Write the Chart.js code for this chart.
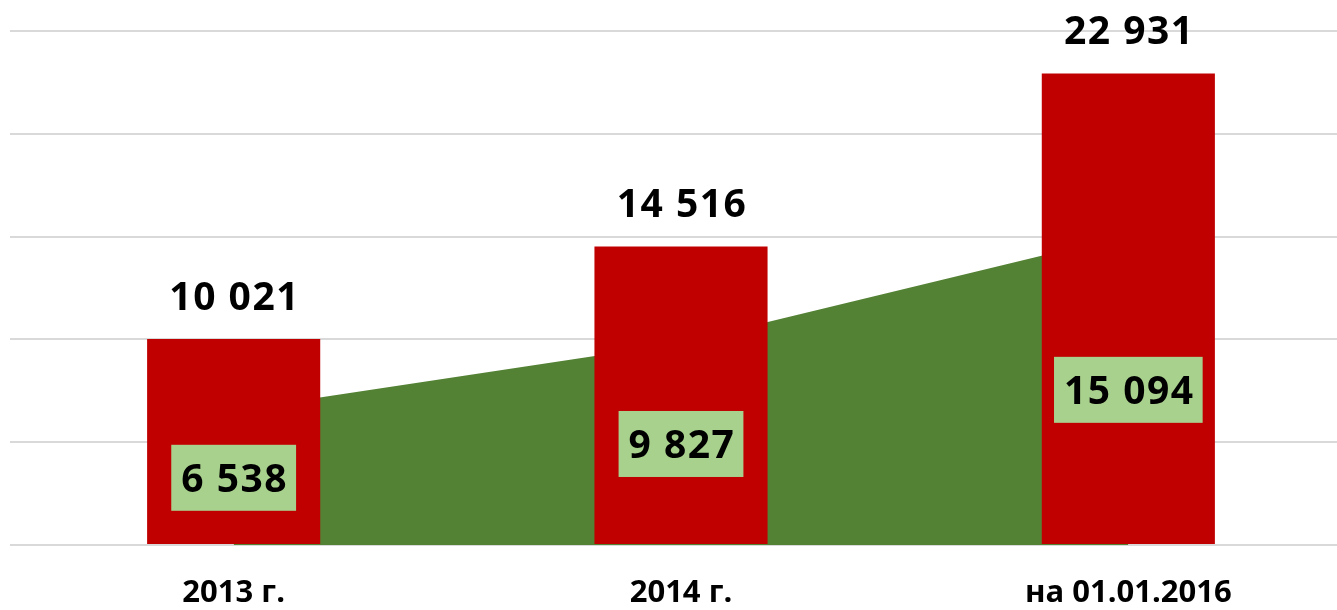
<!DOCTYPE html>
<html>
<head>
<meta charset="utf-8">
<script src="https://cdn.jsdelivr.net/npm/chart.js@4/dist/chart.umd.min.js"></script>
<style>
  html, body { margin: 0; padding: 0; background: #ffffff; overflow: hidden; }
  #wrap { width: 1337px; height: 610px; overflow: hidden; }
  canvas { display: block; }
</style>
</head>
<body>
<div id="wrap"><canvas id="c" width="1352" height="610"></canvas></div>
<script>
const categories = ["2013 г.", "2014 г.", "на 01.01.2016"];
const totalValues = [10021, 14516, 22931];
const areaValues = [6538, 9827, 15094];
const yTicks = [0, 5000, 10000, 15000, 20000, 25000];

const FONT = "'Open Sans', 'DejaVu Sans', sans-serif";
function fmt(v) { return String(v).replace(/\B(?=(\d{3})+(?!\d))/g, ' '); }

const labelPlugin = {
  id: 'valueLabels',
  afterDatasetsDraw(chart) {
    const ctx = chart.ctx;
    const yScale = chart.scales.y;
    const base = yScale.getPixelForValue(0);
    const size = 39;
    ctx.save();
    ctx.font = `bold ${size}px ${FONT}`;
    ctx.letterSpacing = '1.5px';
    ctx.textAlign = 'center';
    ctx.textBaseline = 'alphabetic';
    const capHalf = size * 0.357;
    // bar labels above bars
    const barMeta = chart.getDatasetMeta(1);
    barMeta.data.forEach((el, i) => {
      const cy = el.y - 43;
      ctx.fillStyle = '#000000';
      ctx.fillText(fmt(totalValues[i]), el.x + 1, cy + capHalf);
    });
    // area labels in boxes
    const areaMeta = chart.getDatasetMeta(0);
    areaMeta.data.forEach((el, i) => {
      const txt = fmt(areaValues[i]);
      const cy = (el.y + base) / 2;
      const w = ctx.measureText(txt).width + 18;
      const h = 66;
      ctx.fillStyle = '#A9D18E';
      ctx.fillRect(el.x - w / 2, cy - h / 2, w, h);
      ctx.fillStyle = '#000000';
      ctx.fillText(txt, el.x + 1, cy + capHalf);
    });
    ctx.restore();
  }
};

new Chart(document.getElementById('c'), {
  data: {
    labels: categories,
    datasets: [
      {
        type: 'line',
        data: areaValues,
        backgroundColor: '#548235',
        borderWidth: 0,
        borderColor: 'rgba(0,0,0,0)',
        pointRadius: 0,
        fill: 'origin',
        tension: 0,
        order: 2
      },
      {
        type: 'bar',
        data: totalValues,
        backgroundColor: '#C00000',
        borderWidth: 0,
        barPercentage: 0.387,
        categoryPercentage: 1,
        order: 1
      }
    ]
  },
  options: {
    responsive: false,
    animation: false,
    layout: { padding: { left: 10, right: 0, top: 31, bottom: 0 } },
    plugins: { legend: { display: false }, tooltip: { enabled: false } },
    scales: {
      x: {
        offset: true,
        grid: { display: false, drawTicks: false },
        border: { display: false },
        ticks: {
          color: '#000000',
          font: { family: FONT, size: 31, weight: 'bold' },
          padding: 30,
          maxRotation: 0,
          autoSkip: false
        },
        afterFit(s) { s.height = 65; }
      },
      y: {
        min: 0,
        max: 25000,
        afterBuildTicks(s) { s.ticks = yTicks.map(v => ({ value: v })); },
        grid: { color: '#D9D9D9', lineWidth: 2, drawTicks: false },
        border: { display: false },
        ticks: { display: false },
        afterFit(s) { s.width = 0; }
      }
    }
  },
  plugins: [labelPlugin]
});
</script>
</body>
</html>
